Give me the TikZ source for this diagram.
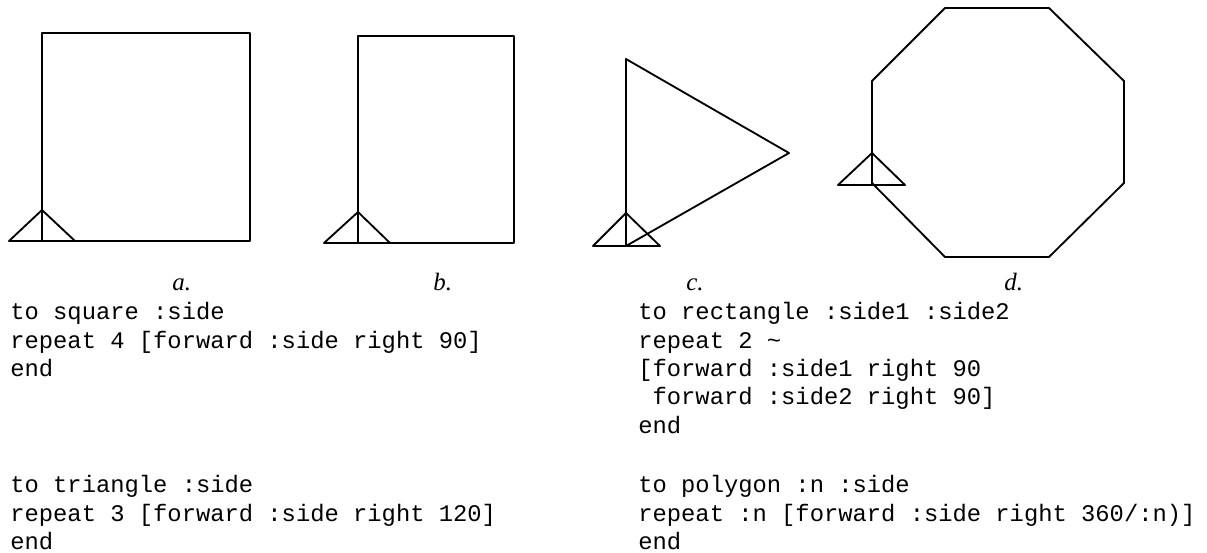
\documentclass[tikz,border=0pt]{standalone}
\usepackage{fontspec}
\setmainfont{Liberation Serif}
\setmonofont{Liberation Mono}
\begin{document}
\begin{tikzpicture}[
  x=0.02cm, y=-0.02cm,
  shape line/.style={draw, line width=1.05pt, line join=round},
  caption/.style={font=\fontsize{14.2pt}{16pt}\selectfont\itshape, inner sep=0pt, anchor=base west},
  code/.style={font=\fontsize{13.55pt}{16.16pt}\selectfont\ttfamily, align=left, anchor=north west, inner sep=0pt}
]
\useasboundingbox (0,0) rectangle (1207,552);
% figures
\draw[shape line] (42,241) -- (42,33) -- (250,33) -- (250,241) -- cycle;
\draw[shape line] (9,241) -- (42,210) -- (75,241) -- cycle;
\draw[shape line] (358,243) -- (358,36) -- (514,36) -- (514,243) -- cycle;
\draw[shape line] (324,243) -- (358,212) -- (390,243) -- cycle;
\draw[shape line] (626,246) -- (626,59) -- (789,153) -- cycle;
\draw[shape line] (593,246) -- (626,213) -- (660,246) -- cycle;
\draw[shape line] (872,183) -- (872,81) -- (945,8) -- (1049,8) -- (1124,81) -- (1124,183) -- (1049,257) -- (945,257) -- cycle;
\draw[shape line] (838,185) -- (872,153) -- (905,185) -- cycle;
\draw[shape line] (872,153) -- (872,185);
% captions
\node[caption] (capa) at (172,290) {a.};
\node[caption] (capb) at (433,290) {b.};
\node[caption] (capc) at (686,290) {c.};
\node[caption] (capd) at (1004,290) {d.};
% code
\node[code] (square) at (10,302) {to square :side\\repeat 4 [forward :side right 90]\\end};
\node[code] (triangle) at (10,475) {to triangle :side\\repeat 3 [forward :side right 120]\\end};
\node[code] (rectangle) at (638,302) {to rectangle :side1 :side2\\repeat 2 \textasciitilde\\{}[forward :side1 right 90\\\ forward :side2 right 90]\\end};
\node[code] (polygon) at (638,475) {to polygon :n :side\\repeat :n [forward :side right 360/:n)]\\end};
\end{tikzpicture}
\end{document}
